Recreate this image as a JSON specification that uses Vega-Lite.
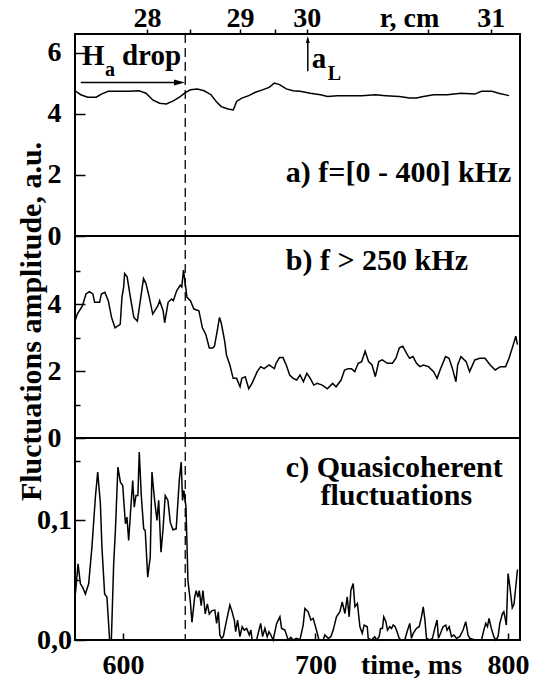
{
  "$schema": "https://vega.github.io/schema/vega-lite/v6.json",
  "background": "white",
  "padding": {"left": 14, "top": 3, "right": 5, "bottom": 5},
  "spacing": 0,
  "bounds": "flush",
  "datasets": {
    "a": [
      {"t":575.0,"v":4.76},{"t":578.0,"v":4.63},{"t":581.6,"v":4.55},{"t":586.0,"v":4.55},{"t":588.7,"v":4.65},{"t":592.3,"v":4.74},{"t":597.6,"v":4.74},{"t":603.0,"v":4.74},{"t":608.3,"v":4.76},{"t":611.9,"v":4.68},{"t":615.4,"v":4.46},{"t":619.0,"v":4.35},{"t":622.5,"v":4.33},{"t":626.1,"v":4.43},{"t":629.7,"v":4.57},{"t":632.3,"v":4.70},{"t":635.0,"v":4.79},{"t":638.6,"v":4.82},{"t":642.1,"v":4.76},{"t":645.7,"v":4.63},{"t":648.4,"v":4.41},{"t":651.0,"v":4.24},{"t":654.6,"v":4.16},{"t":657.3,"v":4.13},{"t":659.0,"v":4.41},{"t":661.7,"v":4.52},{"t":665.3,"v":4.60},{"t":668.8,"v":4.71},{"t":672.4,"v":4.79},{"t":675.9,"v":4.87},{"t":678.6,"v":5.01},{"t":681.3,"v":4.96},{"t":684.8,"v":4.82},{"t":688.4,"v":4.76},{"t":692.0,"v":4.74},{"t":697.3,"v":4.68},{"t":702.6,"v":4.63},{"t":706.2,"v":4.57},{"t":711.5,"v":4.60},{"t":716.9,"v":4.60},{"t":724.0,"v":4.60},{"t":731.1,"v":4.63},{"t":736.5,"v":4.60},{"t":743.6,"v":4.57},{"t":748.9,"v":4.52},{"t":752.5,"v":4.52},{"t":756.1,"v":4.57},{"t":761.4,"v":4.63},{"t":768.5,"v":4.63},{"t":775.6,"v":4.68},{"t":782.8,"v":4.65},{"t":786.3,"v":4.74},{"t":791.7,"v":4.74},{"t":795.2,"v":4.68},{"t":800.6,"v":4.60}
    ],
    "b": [
      {"t":575.0,"v":3.49},{"t":576.2,"v":3.70},{"t":578.9,"v":3.95},{"t":580.7,"v":4.30},{"t":582.5,"v":4.37},{"t":584.3,"v":4.30},{"t":585.2,"v":4.05},{"t":587.8,"v":4.05},{"t":588.7,"v":4.30},{"t":590.5,"v":4.35},{"t":592.3,"v":4.10},{"t":594.0,"v":3.60},{"t":595.8,"v":3.29},{"t":598.5,"v":3.39},{"t":599.4,"v":4.20},{"t":600.3,"v":4.51},{"t":600.8,"v":4.91},{"t":602.1,"v":4.81},{"t":603.8,"v":4.20},{"t":605.6,"v":3.60},{"t":607.4,"v":3.49},{"t":609.2,"v":4.20},{"t":610.6,"v":4.76},{"t":611.9,"v":4.61},{"t":613.6,"v":4.20},{"t":615.4,"v":3.70},{"t":618.1,"v":3.95},{"t":619.0,"v":4.10},{"t":620.8,"v":3.80},{"t":621.6,"v":3.44},{"t":623.4,"v":4.05},{"t":625.2,"v":4.15},{"t":626.1,"v":4.10},{"t":627.9,"v":4.40},{"t":629.7,"v":4.56},{"t":630.5,"v":4.51},{"t":631.4,"v":5.01},{"t":632.3,"v":4.61},{"t":633.2,"v":4.20},{"t":635.0,"v":4.10},{"t":636.8,"v":3.85},{"t":639.4,"v":3.80},{"t":641.2,"v":3.29},{"t":643.0,"v":3.09},{"t":644.8,"v":2.69},{"t":646.6,"v":2.69},{"t":647.5,"v":2.74},{"t":648.9,"v":3.19},{"t":650.1,"v":3.60},{"t":651.0,"v":3.44},{"t":652.8,"v":2.89},{"t":653.7,"v":2.48},{"t":655.5,"v":2.18},{"t":657.2,"v":1.78},{"t":659.0,"v":1.78},{"t":660.8,"v":1.53},{"t":661.7,"v":1.78},{"t":663.5,"v":1.83},{"t":665.3,"v":1.47},{"t":667.0,"v":1.63},{"t":669.7,"v":1.98},{"t":671.5,"v":2.13},{"t":673.3,"v":2.07},{"t":675.9,"v":2.18},{"t":678.6,"v":2.07},{"t":679.5,"v":2.23},{"t":681.3,"v":2.40},{"t":683.1,"v":2.40},{"t":684.8,"v":2.18},{"t":686.6,"v":1.88},{"t":688.4,"v":1.78},{"t":690.2,"v":1.73},{"t":692.0,"v":1.88},{"t":693.7,"v":1.68},{"t":695.5,"v":1.93},{"t":697.3,"v":1.78},{"t":699.1,"v":1.58},{"t":700.9,"v":1.63},{"t":703.5,"v":1.58},{"t":706.2,"v":1.47},{"t":708.9,"v":1.63},{"t":710.7,"v":1.53},{"t":713.3,"v":1.73},{"t":715.1,"v":2.03},{"t":716.9,"v":2.07},{"t":718.7,"v":2.07},{"t":720.4,"v":1.98},{"t":722.2,"v":2.23},{"t":724.0,"v":2.28},{"t":725.8,"v":2.59},{"t":727.6,"v":2.28},{"t":729.4,"v":2.18},{"t":731.1,"v":1.83},{"t":732.9,"v":2.28},{"t":734.7,"v":2.33},{"t":737.4,"v":2.23},{"t":740.0,"v":2.23},{"t":741.8,"v":2.38},{"t":743.6,"v":2.69},{"t":745.4,"v":2.74},{"t":747.2,"v":2.54},{"t":748.9,"v":2.38},{"t":750.7,"v":2.43},{"t":752.5,"v":2.23},{"t":754.3,"v":2.13},{"t":756.1,"v":2.18},{"t":758.7,"v":2.13},{"t":761.4,"v":1.98},{"t":763.2,"v":1.78},{"t":765.0,"v":2.07},{"t":767.6,"v":2.43},{"t":769.4,"v":2.38},{"t":771.2,"v":2.07},{"t":773.0,"v":1.68},{"t":773.9,"v":2.18},{"t":775.6,"v":2.43},{"t":778.3,"v":2.28},{"t":780.1,"v":1.98},{"t":782.8,"v":2.33},{"t":785.4,"v":2.38},{"t":788.1,"v":2.38},{"t":790.8,"v":2.18},{"t":793.4,"v":2.03},{"t":796.1,"v":2.13},{"t":798.8,"v":2.13},{"t":800.6,"v":2.38},{"t":802.3,"v":2.69},{"t":804.1,"v":3.04},{"t":805.0,"v":2.79}
    ],
    "c": [
      {"t":575.2,"v":0.0385},{"t":576.6,"v":0.0637},{"t":577.8,"v":0.047},{"t":579.0,"v":0.044},{"t":580.4,"v":0.0385},{"t":582.1,"v":0.047},{"t":583.8,"v":0.0777},{"t":585.6,"v":0.1196},{"t":586.8,"v":0.1405},{"t":588.2,"v":0.114},{"t":589.0,"v":0.0777},{"t":590.4,"v":0.0385},{"t":591.6,"v":0.0358},{"t":593.0,"v":0},{"t":593.9,"v":0},{"t":595.1,"v":0.0637},{"t":596.0,"v":0.0916},{"t":597.3,"v":0.1447},{"t":598.6,"v":0.1321},{"t":599.8,"v":0.1293},{"t":601.2,"v":0.0972},{"t":602.0,"v":0.1028},{"t":602.9,"v":0.0832},{"t":603.8,"v":0.1056},{"t":605.0,"v":0.1335},{"t":605.8,"v":0.1112},{"t":606.7,"v":0.1209},{"t":607.7,"v":0.1209},{"t":608.4,"v":0.1573},{"t":609.5,"v":0.1196},{"t":610.7,"v":0.093},{"t":611.5,"v":0.0916},{"t":612.8,"v":0.0525},{"t":614.1,"v":0.0693},{"t":615.0,"v":0.1405},{"t":616.2,"v":0.1196},{"t":617.6,"v":0.1},{"t":618.5,"v":0.1168},{"t":619.7,"v":0.0735},{"t":620.7,"v":0.0916},{"t":621.9,"v":0.1209},{"t":623.3,"v":0.1168},{"t":624.5,"v":0.0986},{"t":625.9,"v":0.0922},{"t":627.6,"v":0.093},{"t":629.2,"v":0.1335},{"t":630.2,"v":0.1489},{"t":630.9,"v":0.1168},{"t":631.6,"v":0.1251},{"t":632.7,"v":0.1112},{"t":633.7,"v":0.0497},{"t":634.9,"v":0.033},{"t":635.8,"v":0.0148},{"t":637.2,"v":0.0358},{"t":638.0,"v":0.0413},{"t":638.9,"v":0.0358},{"t":639.6,"v":0.0413},{"t":640.6,"v":0.0288},{"t":641.5,"v":0.0413},{"t":642.7,"v":0.0218},{"t":643.8,"v":0.0302},{"t":644.8,"v":0.0218},{"t":646.2,"v":0.0246},
      {"t":647.7,"v":0.025},{"t":648.6,"v":0.0139},{"t":649.5,"v":0.0236},{"t":650.3,"v":0.0042},{"t":651.2,"v":0.0014},{"t":652.1,"v":0.003},{"t":653.8,"v":0.0167},{"t":655.5,"v":0.0292},{"t":656.4,"v":0.025},{"t":657.8,"v":0.0167},{"t":658.5,"v":0.0069},{"t":659.5,"v":0.0167},{"t":660.7,"v":0.0028},{"t":661.9,"v":0.0111},{"t":663.0,"v":0.0083},{"t":664.2,"v":0.0097},{"t":665.6,"v":0.0042},{"t":666.4,"v":0.0083},{"t":667.1,"v":0},{"t":669.4,"v":0},{"t":670.2,"v":0.0056},{"t":671.5,"v":0.0139},{"t":672.5,"v":0.0028},{"t":673.7,"v":0.0097},{"t":674.9,"v":0.0028},{"t":675.8,"v":0.0069},{"t":676.8,"v":0.0042},{"t":678.0,"v":0},{"t":679.8,"v":0.0139},{"t":681.5,"v":0.0194},{"t":682.4,"v":0.0097},{"t":684.1,"v":0.0083},{"t":685.8,"v":0},{"t":687.2,"v":0.0022},{"t":688.4,"v":0},{"t":690.2,"v":0.0014},{"t":691.9,"v":0},{"t":693.6,"v":0.0125},{"t":694.5,"v":0.0264},{"t":696.2,"v":0.0236},{"t":697.6,"v":0.0167},{"t":698.8,"v":0.0181},{"t":700.5,"v":0.0083},{"t":701.8,"v":0},{"t":704.0,"v":0},{"t":704.9,"v":0.0042},{"t":706.6,"v":0.0014},{"t":708.0,"v":0.0028},{"t":709.2,"v":0.0083},{"t":710.9,"v":0.0194},{"t":712.7,"v":0.0236},{"t":713.9,"v":0.0319},{"t":715.3,"v":0.0222},{"t":716.5,"v":0.0361},{"t":717.5,"v":0.0194},{"t":718.4,"v":0.0417},{"t":719.6,"v":0.0472},{"t":720.5,"v":0.0278},{"t":721.8,"v":0.0306},{"t":723.1,"v":0.0111},{"t":724.3,"v":0.0056},{"t":725.3,"v":0.0125},
      {"t":726.9,"v":0.0111},{"t":727.4,"v":0.0014},{"t":729.1,"v":0},{"t":730.8,"v":0.0028},{"t":731.7,"v":0},{"t":733.1,"v":0.0028},{"t":733.8,"v":0.0097},{"t":734.8,"v":0.0097},{"t":735.5,"v":0.0194},{"t":736.6,"v":0.0153},{"t":737.4,"v":0.0083},{"t":738.6,"v":0.0111},{"t":739.5,"v":0.0097},{"t":740.4,"v":0.0125},{"t":741.4,"v":0.0111},{"t":742.4,"v":0.0069},{"t":743.5,"v":0.0014},{"t":744.7,"v":0},{"t":746.4,"v":0},{"t":747.6,"v":0.0069},{"t":749.0,"v":0.0139},{"t":749.9,"v":0.0014},{"t":750.8,"v":0.0056},{"t":752.5,"v":0.0097},{"t":753.9,"v":0.0111},{"t":755.1,"v":0.0194},{"t":756.0,"v":0.0278},{"t":756.8,"v":0.0181},{"t":757.7,"v":0.0014},{"t":759.4,"v":0},{"t":760.8,"v":0.0014},{"t":762.0,"v":0.0097},{"t":763.2,"v":0.0167},{"t":763.9,"v":0.0014},{"t":765.0,"v":0.0056},{"t":766.3,"v":0.0111},{"t":767.7,"v":0.0125},{"t":768.4,"v":0.0083},{"t":769.5,"v":0.0111},{"t":770.7,"v":0.0028},{"t":771.9,"v":0.0042},{"t":773.3,"v":0.0014},{"t":775.0,"v":0.0028},{"t":776.7,"v":0.0083},{"t":778.1,"v":0.0153},{"t":779.3,"v":0.0042},{"t":780.2,"v":0.0014},{"t":782.8,"v":0},{"t":786.3,"v":0},{"t":787.5,"v":0.0083},{"t":788.5,"v":0.0139},{"t":789.4,"v":0.0111},{"t":790.2,"v":0.0181},{"t":791.4,"v":0.0097},{"t":792.7,"v":0.0028},{"t":793.7,"v":0},{"t":794.9,"v":0.0028},{"t":795.8,"v":0.0139},{"t":797.2,"v":0.0222},{"t":797.9,"v":0.0236},{"t":798.6,"v":0.0181},{"t":799.2,"v":0.0125},{"t":800.1,"v":0.0556},{"t":801.0,"v":0.045},{"t":802.3,"v":0.027},{"t":803.2,"v":0.03},{"t":805.0,"v":0.059}
    ]
  },
  "vconcat": [
    {
      "width": 445, "height": 202,
      "layer": [
        {
          "data": {"name": "a"},
          "mark": {"type": "line", "color": "black", "strokeWidth": 1.5},
          "encoding": {
            "x": {"field": "t", "type": "quantitative", "scale": {"domain": [575, 806.3], "nice": false, "zero": false},
              "axis": {"orient": "top", "values": [612.4, 634.7, 660.7, 678.9, 695.5, 758.4, 791.1],
                "labelExpr": "datum.value == 612.4 ? '28' : datum.value == 660.7 ? '29' : datum.value == 695.5 ? '30' : datum.value == 791.1 ? '31' : ''",
                "tickSize": 5, "labelPadding": 3, "labelBaseline": "alphabetic",
                "title": "r, cm", "titleX": 334, "titleY": -8, "titleBaseline": "alphabetic", "titleAlign": "center", "titleAngle": 0}},
            "y": {"field": "v", "type": "quantitative", "scale": {"domain": [0, 6.62], "nice": false},
              "axis": {"values": [0, 1, 2, 3, 4, 5, 6], "labelExpr": "datum.value % 2 === 0 ? datum.label : ''",
                "tickSize": {"condition": {"test": "datum.value % 2 === 0", "value": -10}, "value": -5},
                "labelPadding": 31, "labelAlign": "center", "labelBaseline": "middle", "title": null}}
          }
        },
        {
          "data": {"values": [{}]},
          "mark": {"type": "rule", "color": "black", "strokeWidth": 1.3, "strokeDash": [9, 5]},
          "encoding": {"x": {"datum": 632.3}}
        },
        {
          "data": {"values": [
            {"t": 578.6, "v": 5.62, "txt": "H"},
            {"t": 599.4, "v": 5.62, "txt": "drop"},
            {"t": 698.1, "v": 5.51, "txt": "a"}
          ]},
          "mark": {"type": "text", "align": "left", "baseline": "alphabetic", "fontSize": 29},
          "encoding": {"x": {"field": "t", "type": "quantitative"}, "y": {"field": "v", "type": "quantitative"}, "text": {"field": "txt"}}
        },
        {
          "data": {"values": [
            {"t": 590.6, "v": 5.23, "txt": "a"},
            {"t": 706.4, "v": 5.12, "txt": "L"}
          ]},
          "mark": {"type": "text", "align": "left", "baseline": "alphabetic", "fontSize": 20},
          "encoding": {"x": {"field": "t", "type": "quantitative"}, "y": {"field": "v", "type": "quantitative"}, "text": {"field": "txt"}}
        },
        {
          "data": {"values": [{"t": 684.6, "v": 1.76, "txt": "a) f=[0 - 400] kHz"}]},
          "mark": {"type": "text", "align": "left", "baseline": "alphabetic", "fontSize": 30},
          "encoding": {"x": {"field": "t", "type": "quantitative"}, "y": {"field": "v", "type": "quantitative"}, "text": {"field": "txt"}}
        },
        {
          "data": {"values": [{"t": 578.0, "t2": 626.5, "v": 5.03}]},
          "mark": {"type": "rule", "color": "black", "strokeWidth": 1.5},
          "encoding": {"x": {"field": "t", "type": "quantitative"}, "x2": {"field": "t2"}, "y": {"field": "v", "type": "quantitative"}}
        },
        {
          "data": {"values": [{"t": 629.3, "v": 5.03}]},
          "mark": {"type": "point", "shape": "M1,0L-1,-0.55L-1,0.55Z", "size": 121, "filled": true, "color": "black", "opacity": 1},
          "encoding": {"x": {"field": "t", "type": "quantitative"}, "y": {"field": "v", "type": "quantitative"}}
        },
        {
          "data": {"values": [{"t": 696.0, "v": 5.40, "v2": 6.40}]},
          "mark": {"type": "rule", "color": "black", "strokeWidth": 1.5},
          "encoding": {"x": {"field": "t", "type": "quantitative"}, "y": {"field": "v", "type": "quantitative"}, "y2": {"field": "v2"}}
        },
        {
          "data": {"values": [{"t": 696.0, "v": 6.44}]},
          "mark": {"type": "point", "shape": "M0,-1L-0.55,1L0.55,1Z", "size": 49, "filled": true, "color": "black", "opacity": 1},
          "encoding": {"x": {"field": "t", "type": "quantitative"}, "y": {"field": "v", "type": "quantitative"}}
        }
      ]
    },
    {
      "width": 445, "height": 202,
      "layer": [
        {
          "data": {"name": "b"},
          "mark": {"type": "line", "color": "black", "strokeWidth": 1.5},
          "encoding": {
            "x": {"field": "t", "type": "quantitative", "scale": {"domain": [575, 806.3], "nice": false, "zero": false}, "axis": null},
            "y": {"field": "v", "type": "quantitative", "scale": {"domain": [0, 6.03], "nice": false},
              "axis": {"values": [0, 1, 2, 3, 4, 5], "labelExpr": "datum.value % 2 === 0 ? datum.label : ''",
                "tickSize": {"condition": {"test": "datum.value % 2 === 0", "value": -10}, "value": -5},
                "labelPadding": 31, "labelAlign": "center", "labelBaseline": "middle",
                "title": "Fluctuations amplitude, a.u.", "titleFontSize": 30, "titleX": -35, "titleY": 85,
                "titleAngle": 270, "titleBaseline": "alphabetic", "titleAlign": "center"}}
          }
        },
        {
          "data": {"values": [{}]},
          "mark": {"type": "rule", "color": "black", "strokeWidth": 1.3, "strokeDash": [9, 5]},
          "encoding": {"x": {"datum": 632.3}}
        },
        {
          "data": {"values": [{"t": 684.6, "v": 5.01, "txt": "b) f > 250 kHz"}]},
          "mark": {"type": "text", "align": "left", "baseline": "alphabetic", "fontSize": 30},
          "encoding": {"x": {"field": "t", "type": "quantitative"}, "y": {"field": "v", "type": "quantitative"}, "text": {"field": "txt"}}
        }
      ]
    },
    {
      "width": 445, "height": 202,
      "layer": [
        {
          "data": {"name": "c"},
          "mark": {"type": "line", "color": "black", "strokeWidth": 1.5},
          "encoding": {
            "x": {"field": "t", "type": "quantitative", "scale": {"domain": [575, 806.3], "nice": false, "zero": false},
              "axis": {"orient": "bottom", "values": [600, 700, 800], "tickSize": -7, "labelPadding": 40, "labelBaseline": "alphabetic",
                "title": "time, ms", "titleX": 336, "titleY": 33, "titleBaseline": "alphabetic", "titleAlign": "center"}},
            "y": {"field": "v", "type": "quantitative", "scale": {"domain": [0, 0.169], "nice": false},
              "axis": {"values": [0, 0.05, 0.1, 0.15], "labelExpr": "datum.value === 0 ? '0,0' : datum.value === 0.1 ? '0,1' : ''",
                "tickSize": {"condition": {"test": "datum.value === 0 || datum.value === 0.1", "value": -10}, "value": -5},
                "labelPadding": 31, "labelAlign": "center", "labelBaseline": "middle", "title": null}}
          }
        },
        {
          "data": {"values": [{}]},
          "mark": {"type": "rule", "color": "black", "strokeWidth": 1.3, "strokeDash": [9, 5]},
          "encoding": {"x": {"datum": 632.3}}
        },
        {
          "data": {"values": [
            {"t": 684.6, "v": 0.1363, "txt": "c) Quasicoherent"},
            {"t": 702.6, "v": 0.1126, "txt": "fluctuations"}
          ]},
          "mark": {"type": "text", "align": "left", "baseline": "alphabetic", "fontSize": 30},
          "encoding": {"x": {"field": "t", "type": "quantitative"}, "y": {"field": "v", "type": "quantitative"}, "text": {"field": "txt"}}
        }
      ]
    }
  ],
  "config": {
    "view": {"stroke": "black", "strokeWidth": 2},
    "axis": {"labelFont": "Liberation Serif, Times New Roman, DejaVu Serif, serif", "labelFontWeight": "bold", "labelFontSize": 28, "labelColor": "black",
      "titleFont": "Liberation Serif, Times New Roman, DejaVu Serif, serif", "titleFontWeight": "bold", "titleFontSize": 28, "titleColor": "black",
      "tickColor": "black", "tickWidth": 1.5, "domain": false, "grid": false, "labelFlush": false, "labelOverlap": false},
    "text": {"font": "Liberation Serif, Times New Roman, DejaVu Serif, serif", "fontWeight": "bold", "color": "black"}
  }
}
